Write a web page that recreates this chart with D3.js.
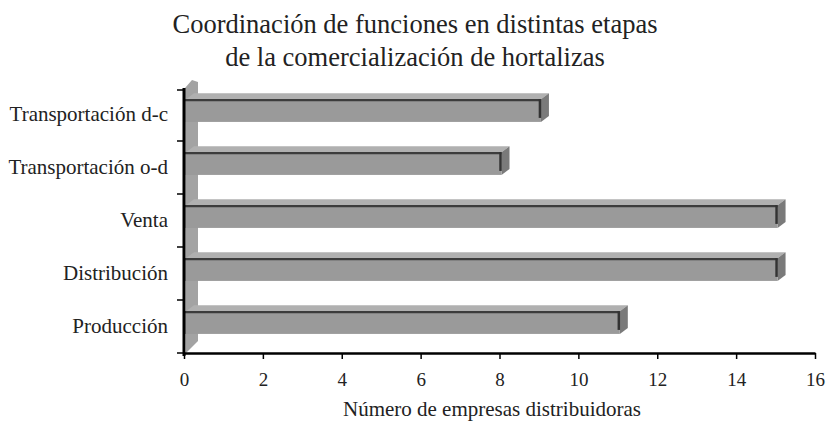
<!DOCTYPE html>
<html>
<head>
<meta charset="utf-8">
<script src="https://cdn.jsdelivr.net/npm/d3@7"></script>
<style>
  body { margin: 0; background: #fff; }
</style>
</head>
<body>
<div id="chart"></div>
<script>
// chart data
var categories = ["Transportación d-c", "Transportación o-d", "Venta", "Distribución", "Producción"];
var empresas = [9, 8, 15, 15, 11];
var xTicks = [0, 2, 4, 6, 8, 10, 12, 14, 16];
var titleLines = ["Coordinación de funciones en distintas etapas", "de la comercialización de hortalizas"];
var xTitle = "Número de empresas distribuidoras";

var serif = "Liberation Serif";
var svgWidth = 827;
var svgHeight = 423;

var svg = d3.select("#chart")
  .append("svg")
  .attr("width", svgWidth)
  .attr("height", svgHeight);

// scales
var x = d3.scaleLinear().domain([0, 16]).range([184, 815]);
var y = d3.scaleBand().domain(categories).range([88, 353]);
var step = y.step();

// 3d depth offsets
var dx = 8, dy = 6;

// left wall
svg.append("path")
  .attr("d", "M185,88L192,80L198,82L198,341L186,353Z")
  .attr("fill", "#a3a3a3");

var bars = svg.selectAll("g.bar")
  .data(categories.map((c, i) => ({ cat: c, val: empresas[i] })))
  .enter().append("g")
  .attr("class", "bar");

function barTop(d) { return y(d.cat) + step * 0.21; }
var barH = step * 0.43;

// top face
bars.append("path")
  .attr("d", d => {
    var t = barTop(d), x0 = x(0) + 2, x1 = x(d.val) + 2;
    return `M${x0},${t}L${x0 + dx},${t - dy}L${x1 + dx},${t - dy}L${x1},${t}Z`;
  })
  .attr("fill", "#b0b0b0");

// side face
bars.append("path")
  .attr("d", d => {
    var t = barTop(d), x1 = x(d.val) + 2;
    return `M${x1},${t}L${x1 + dx},${t - dy}L${x1 + dx},${t + barH - dy}L${x1},${t + barH}Z`;
  })
  .attr("fill", "#7a7a7a");

// front face
bars.append("rect")
  .attr("x", x(0) + 1)
  .attr("y", d => barTop(d))
  .attr("width", d => x(d.val) + 2 - x(0) - 1)
  .attr("height", barH)
  .attr("fill", "#9a9a9a");

// dark top edge of the front
bars.append("line")
  .attr("x1", x(0) + 1)
  .attr("x2", d => x(d.val) + 2)
  .attr("y1", d => barTop(d) + 1)
  .attr("y2", d => barTop(d) + 1)
  .attr("stroke", "#3c3c3c")
  .attr("stroke-width", 2.2);

// dark right edge
bars.append("line")
  .attr("x1", d => x(d.val) + 1)
  .attr("x2", d => x(d.val) + 1)
  .attr("y1", d => barTop(d))
  .attr("y2", d => barTop(d) + barH - 4)
  .attr("stroke", "#333")
  .attr("stroke-width", 2.5);

// x axis
var bottomAxis = d3.axisBottom(x).tickValues(xTicks).tickSize(6).tickSizeOuter(0);
var xAxis = svg.append("g")
  .attr("transform", "translate(0,353)")
  .call(bottomAxis);
xAxis.select(".domain").attr("stroke", "#000").attr("stroke-width", 2.5);
xAxis.selectAll(".tick line").attr("stroke", "#000").attr("stroke-width", 1.5);
xAxis.selectAll(".tick text")
  .attr("y", 20)
  .attr("font-size", 19)
  .attr("font-family", serif)
  .attr("fill", "#222");

// y axis line with ticks at band edges
svg.append("line")
  .attr("x1", 184).attr("x2", 184)
  .attr("y1", 88).attr("y2", 356)
  .attr("stroke", "#000")
  .attr("stroke-width", 3);

svg.selectAll("line.ytick")
  .data(categories.concat(["end"]))
  .enter().append("line")
  .attr("class", "ytick")
  .attr("x1", 177).attr("x2", 184)
  .attr("y1", (d, i) => 88 + i * step + (i === 0 ? 2 : 0))
  .attr("y2", (d, i) => 88 + i * step + (i === 0 ? 2 : 0))
  .attr("stroke", "#000")
  .attr("stroke-width", 1.5);

// category labels
svg.selectAll("text.cat")
  .data(categories)
  .enter().append("text")
  .attr("class", "cat")
  .attr("x", 168)
  .attr("y", d => y(d) + step / 2)
  .attr("dy", "0.33em")
  .attr("text-anchor", "end")
  .attr("font-family", serif)
  .attr("font-size", 21)
  .attr("fill", "#222")
  .text(d => d);

// title
svg.selectAll("text.title")
  .data(titleLines)
  .enter().append("text")
  .attr("class", "title")
  .attr("x", 415)
  .attr("y", (d, i) => 33 + i * 33)
  .attr("text-anchor", "middle")
  .attr("font-family", serif)
  .attr("font-size", 26.5)
  .attr("fill", "#222")
  .text(d => d);

// x axis title
svg.append("text")
  .attr("x", 492)
  .attr("y", 416)
  .attr("text-anchor", "middle")
  .attr("font-family", serif)
  .attr("font-size", 21)
  .attr("fill", "#222")
  .text(xTitle);
</script>
</body>
</html>
